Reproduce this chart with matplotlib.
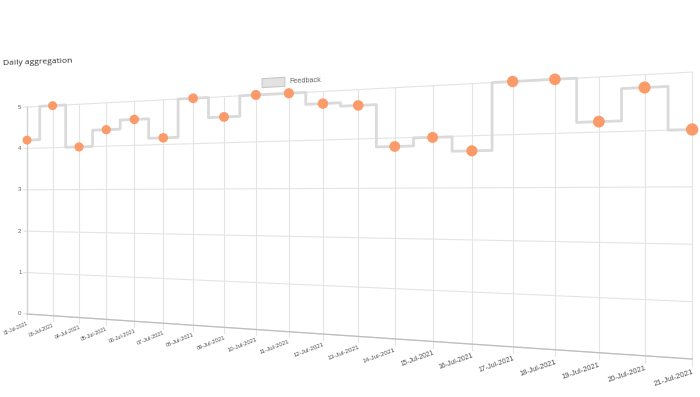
import matplotlib.pyplot as plt
import numpy as np
from matplotlib.patches import Rectangle
from matplotlib.transforms import Transform

dates = [
    "02-Jul-2021", "03-Jul-2021", "04-Jul-2021", "05-Jul-2021", "06-Jul-2021",
    "07-Jul-2021", "08-Jul-2021", "09-Jul-2021", "10-Jul-2021", "11-Jul-2021",
    "12-Jul-2021", "13-Jul-2021", "14-Jul-2021", "15-Jul-2021", "16-Jul-2021",
    "17-Jul-2021", "18-Jul-2021", "19-Jul-2021", "20-Jul-2021", "21-Jul-2021",
]
feedback = [4.2, 5.0, 4.0, 4.38, 4.59, 4.15, 5.0, 4.56, 5.0, 5.0,
            4.75, 4.68, 3.83, 3.99, 3.71, 5.0, 5.0, 4.19, 4.77, 4.0]
y_ticks = [0, 1, 2, 3, 4, 5]

# the chart is seen at an angle: flat (day index, score) -> image pixels
A, C, G = 24.86, 27.0, -0.01466
D, E, F = -2.894, -41.4, 314.0


class Tilt(Transform):
    input_dims = output_dims = 2

    def transform_non_affine(self, values):
        values = np.asarray(values, dtype=float)
        u, v = values[:, 0], values[:, 1]
        w = 1 + G * u
        return np.column_stack(((A * u + C) / w, (D * u + E * v + F) / w))


def depth(u):
    # how much bigger things get further right
    return 1 / (1 + G * np.asarray(u, dtype=float))


fig = plt.figure(figsize=(7, 3.97), dpi=100)
ax = fig.add_axes([0, 0, 1, 1])
ax.set_autoscale_on(False)
ax.set_xlim(0, 700)
ax.set_ylim(397, 0)
ax.axis("off")
tr = Tilt() + ax.transData

idx = np.arange(len(dates))
last = idx[-1]
top = max(y_ticks)

# grid
for t in y_ticks:
    ax.plot([-0.12, last], [t, t], color="#e4e4e4", lw=0.8, transform=tr, zorder=1)
for i in idx:
    ax.plot([i, i], [-0.12, top], color="#e4e4e4", lw=0.8, transform=tr, zorder=1)
ax.plot([0, last], [0, 0], color="#bdbdbd", lw=0.9, transform=tr, zorder=2)
ax.plot([0, 0], [0, top], color="#d0d0d0", lw=0.9, transform=tr, zorder=2)

# series
ax.plot(idx, feedback, drawstyle="steps-mid", color="#dadada", lw=2.0,
        transform=tr, zorder=3)
ax.scatter(idx, feedback, s=(6.4 * depth(idx)) ** 2, color="#fb9b69",
           linewidths=0, transform=tr, zorder=4)

# tick labels
for t in y_ticks:
    ax.text(-0.22, t, str(t), transform=tr, ha="right", va="center",
            fontsize=4.4, color="#666666", family="Liberation Sans")
for i, d in zip(idx, dates):
    ax.text(i, -0.16, d, transform=tr, ha="right", va="top",
            rotation=24 - 6 * i / last, rotation_mode="anchor",
            fontsize=3.5 * depth(i) ** 1.5, color="#505050",
            family="Liberation Sans")

# legend and title
ax.add_patch(Rectangle((8.19, 5.15), 0.69, 0.19, facecolor="#e2e2e2",
                       edgecolor="#c8c8c8", lw=0.8, transform=tr))
ax.text(9.0, 5.25, "Feedback", transform=tr, ha="left", va="center",
        rotation=2, fontsize=5.2, color="#666666", family="Liberation Sans")
ax.text(-0.96, 6.13, "Daily aggregation", transform=tr, ha="left", va="center",
        rotation=2, fontsize=6.1, color="#2e2e2e", family="Open Sans")

fig.savefig("out.png", dpi=100)
